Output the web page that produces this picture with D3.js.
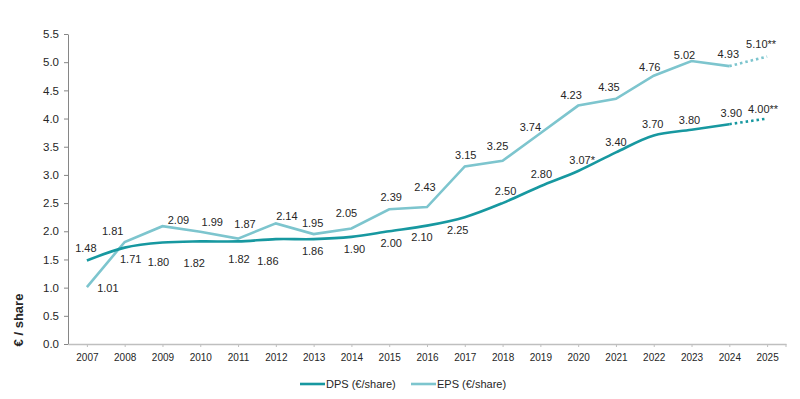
<!DOCTYPE html>
<html lang="en">
<head>
    <meta charset="UTF-8">
    <title>DPS / EPS</title>
    <script src="https://cdn.jsdelivr.net/npm/d3@7/dist/d3.min.js"></script>
    <style>
        body { margin: 0; background: #fff; }
        text { font-family: "Liberation Sans", Arial, sans-serif; fill: #262626; }
    </style>
</head>
<body>

<script>

    const width = 800;
    const height = 399;

    const years = ["2007", "2008", "2009", "2010", "2011", "2012", "2013", "2014", "2015", "2016",
        "2017", "2018", "2019", "2020", "2021", "2022", "2023", "2024", "2025"];
    const dps = [1.48, 1.71, 1.80, 1.82, 1.82, 1.86, 1.86, 1.90, 2.00, 2.10,
        2.25, 2.50, 2.80, 3.07, 3.40, 3.70, 3.80, 3.90, 4.00];
    const eps = [1.01, 1.81, 2.09, 1.99, 1.87, 2.14, 1.95, 2.05, 2.39, 2.43,
        3.15, 3.25, 3.74, 4.23, 4.35, 4.76, 5.02, 4.93, 5.10];
    const dpsLabels = ["1.48", "1.71", "1.80", "1.82", "1.82", "1.86", "1.86", "1.90", "2.00", "2.10",
        "2.25", "2.50", "2.80", "3.07*", "3.40", "3.70", "3.80", "3.90", "4.00**"];
    const epsLabels = ["1.01", "1.81", "2.09", "1.99", "1.87", "2.14", "1.95", "2.05", "2.39", "2.43",
        "3.15", "3.25", "3.74", "4.23", "4.35", "4.76", "5.02", "4.93", "5.10**"];
    const yTicks = [0, 0.5, 1, 1.5, 2, 2.5, 3, 3.5, 4, 4.5, 5, 5.5];
    const forecastFrom = "2024";   // last actual year, dotted afterwards

    // label nudges [dx, dy] as Excel placed them
    const dpsNudge = [[-1, -12], [6, 12], [-4, 20], [-6, 22], [1, 18], [-8, 22], [-1, 12], [3, 12], [2, 12], [-5, 12],
        [-7, 13], [3, -12], [1, -12], [4, -11], [0, -10], [-1, -11], [-2, -10], [2, -11], [-4, -9]];
    const epsNudge = [[21, 1], [-12, -11], [16, -6], [12, -10], [7, -14], [11, -7], [-1, -11], [-5, -15], [2, -12], [-2, -20],
        [1, -11], [-5, -15], [-10, -6], [-7, -10], [-7, -12], [-4, -9], [-7, -6], [-1, -12], [-6, -12]];

    const dpsColor = "#1798a0";
    const epsColor = "#7dc5ce";

    const margin = {left: 68, right: 14, top: 34, bottom: 55};

    const svg = d3.select("body").append("svg").attr("width", width).attr("height", height);

    const x = d3.scalePoint()
        .domain(years)
        .range([margin.left, width - margin.right])
        .padding(0.5);

    const y = d3.scaleLinear()
        .domain([0, 5.5])
        .range([height - margin.bottom, margin.top]);

    // y axis
    const yAxis = svg.append("g")
        .attr("transform", `translate(${margin.left},0)`)
        .call(d3.axisLeft(y).tickValues(yTicks).tickFormat(d3.format(".1f")).tickSize(4).tickSizeOuter(0));
    yAxis.select(".domain").attr("stroke", "#868686");
    yAxis.selectAll(".tick line").attr("stroke", "#868686");
    yAxis.selectAll(".tick text").attr("font-size", 11.5).attr("x", -9).attr("fill", "#262626");

    // x axis
    const xAxis = svg.append("g")
        .attr("transform", `translate(0,${y(0)})`)
        .call(d3.axisBottom(x).tickSize(3).tickSizeOuter(0).tickPadding(7));
    xAxis.select(".domain").attr("stroke", "#bfbfbf").attr("stroke-width", 1.5);
    xAxis.selectAll(".tick line").attr("stroke", "#bfbfbf");
    xAxis.selectAll(".tick text").attr("font-size", 10).attr("fill", "#262626");
    xAxis.append("line")
        .attr("x1", width - margin.right).attr("x2", width - margin.right)
        .attr("y1", 0).attr("y2", 3).attr("stroke", "#bfbfbf");

    svg.append("text")
        .attr("transform", `translate(23, 320) rotate(-90)`)
        .attr("text-anchor", "middle")
        .attr("font-size", 13)
        .attr("font-weight", "bold")
        .text("€ / share");

    const cut = years.indexOf(forecastFrom);

    function drawSeries(values, color, curve) {
        const pts = values.map((v, i) => [x(years[i]), y(v)]);
        const line = d3.line().curve(curve);
        svg.append("path")
            .attr("d", line(pts.slice(0, cut + 1)))
            .attr("fill", "none")
            .attr("stroke", color)
            .attr("stroke-width", 2.6);
        svg.append("path")
            .attr("d", d3.line()(pts.slice(cut)))
            .attr("fill", "none")
            .attr("stroke", color)
            .attr("stroke-width", 2.6)
            .attr("stroke-dasharray", "2.5 3");
    }

    drawSeries(eps, epsColor, d3.curveLinear);
    drawSeries(dps, dpsColor, d3.curveCatmullRom.alpha(0.5));

    function drawLabels(values, labels, nudge) {
        svg.append("g")
            .attr("font-size", 11)
            .attr("text-anchor", "middle")
            .selectAll("text")
            .data(values)
            .join("text")
            .attr("x", (d, i) => x(years[i]) + nudge[i][0])
            .attr("y", (d, i) => y(d) + nudge[i][1])
            .attr("dy", "0.35em")
            .text((d, i) => labels[i]);
    }

    drawLabels(dps, dpsLabels, dpsNudge);
    drawLabels(eps, epsLabels, epsNudge);

    // legend
    const legend = svg.append("g")
        .attr("font-size", 11)
        .attr("transform", "translate(0, 384)")
        .selectAll("g")
        .data([["DPS (€/share)", dpsColor, 300], ["EPS (€/share)", epsColor, 411]])
        .join("g")
        .attr("transform", d => `translate(${d[2]},0)`);

    legend.append("line")
        .attr("x1", 0).attr("x2", 25)
        .attr("stroke", d => d[1])
        .attr("stroke-width", 2.6);

    legend.append("text")
        .attr("x", 26)
        .attr("dy", "0.35em")
        .text(d => d[0]);

</script>

</body>
</html>
